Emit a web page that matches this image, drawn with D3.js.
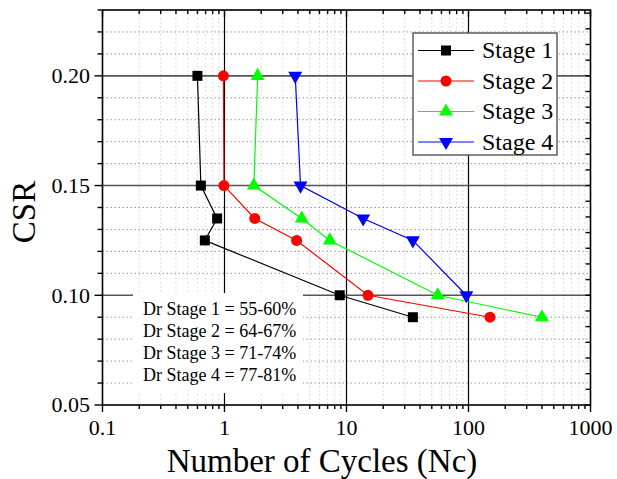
<!DOCTYPE html>
<html>
<head>
<meta charset="utf-8">
<script src="https://cdn.jsdelivr.net/npm/d3@7"></script>
<style>
  html, body { margin: 0; padding: 0; background: #fff; }
  svg { display: block; }
  svg text { font-family: "Liberation Serif", "Times New Roman", serif; }
</style>
</head>
<body>
<svg id="chart" width="617" height="479"></svg>
<script>
// CSR levels shared by all four stages
const csr = [0.20, 0.15, 0.135, 0.125, 0.10, 0.09];

// Number of cycles to liquefaction for each stage
const stage1 = [0.60, 0.64, 0.87, 0.69, 8.8, 35];
const stage2 = [0.98, 0.99, 1.77, 3.9, 15, 150];
const stage3 = [1.87, 1.74, 4.3, 7.3, 56, 400];
const stage4 = [3.8, 4.2, 13.7, 35, 96];

const seriesNames = ["Stage 1", "Stage 2", "Stage 3", "Stage 4"];
const seriesColors = ["#000000", "#ff0000", "#00ff00", "#0000ff"];
const seriesSymbols = ["square", "circle", "triangle", "triangleDown"];

const xTickLabels = ["0.1", "1", "10", "100", "1000"];
const yTickLabels = ["0.05", "0.10", "0.15", "0.20"];

const noteLines = [
  "Dr Stage 1 = 55-60%",
  "Dr Stage 2 = 64-67%",
  "Dr Stage 3 = 71-74%",
  "Dr Stage 4 = 77-81%"
];

const FONT = "Liberation Serif";
const svg = d3.select("#chart");
const L = 102.5, R = 590.5, T = 10, B = 405;

const x = d3.scaleLog().domain([0.1, 1000]).range([L, R]);
const y = d3.scaleLinear().domain([0.05, 0.23]).range([B, T]);

const xMajor = xTickLabels.map(Number);
const xMinor = [];
for (let e = -1; e < 3; e++) for (let k = 2; k <= 9; k++) xMinor.push(k * Math.pow(10, e));
const yMajor = yTickLabels.map(Number);
const yMinor = d3.range(0, 19).map(i => +(0.05 + i * 0.01).toFixed(3)).filter(v => !yMajor.includes(v));
const yRight = d3.range(0, 26).map(i => 0.05 + i * 0.05 / 7).filter(v => v <= 0.2305);

// minor grid
const grid = svg.append("g");
grid.selectAll(".vmin").data(xMinor).join("line")
  .attr("x1", d => x(d)).attr("x2", d => x(d)).attr("y1", T).attr("y2", B)
  .attr("stroke", "#d4d4d4").attr("stroke-width", 1).attr("stroke-dasharray", "1.5,2.5");
grid.selectAll(".hmin").data(yMinor).join("line")
  .attr("x1", L).attr("x2", R).attr("y1", d => y(d)).attr("y2", d => y(d))
  .attr("stroke", "#999").attr("stroke-width", 1).attr("stroke-dasharray", "1.5,2.5");
// major grid
grid.selectAll(".vmaj").data(xMajor.slice(1, -1)).join("line")
  .attr("x1", d => x(d)).attr("x2", d => x(d)).attr("y1", T).attr("y2", B)
  .attr("stroke", "#000").attr("stroke-width", 1.2);
grid.selectAll(".hmaj").data(yMajor.slice(1)).join("line")
  .attr("x1", L).attr("x2", R).attr("y1", d => y(d)).attr("y2", d => y(d))
  .attr("stroke", "#555").attr("stroke-width", 1.6);

// note box (white background over the grid)
const noteG = svg.append("g");
noteG.append("rect").attr("x", 133).attr("y", 293).attr("width", 170).attr("height", 100).attr("fill", "#fff");
noteG.selectAll("text").data(noteLines).join("text")
  .attr("x", 143).attr("y", (d, i) => 315 + i * 22)
  .attr("font-family", FONT).attr("font-size", 18).attr("fill", "#000").text(d => d);

// series
const symbolType = {
  square: d3.symbolSquare, circle: d3.symbolCircle,
  triangle: d3.symbolTriangle, triangleDown: d3.symbolTriangle
};
const symbolSize = { square: 100, circle: 95, triangle: 85, triangleDown: 85 };
function drawSymbol(g, kind, color) {
  const p = g.append("path").attr("d", d3.symbol().type(symbolType[kind]).size(symbolSize[kind])())
    .attr("fill", color);
  if (kind === "triangleDown") p.attr("transform", "rotate(180)");
  return p;
}

const allSeries = [stage1, stage2, stage3, stage4];
const line = d3.line().x(d => x(d[0])).y(d => y(d[1]));
allSeries.forEach((vals, si) => {
  const pts = vals.map((v, i) => [v, csr[i]]);
  const g = svg.append("g");
  g.append("path").attr("d", line(pts)).attr("fill", "none")
    .attr("stroke", seriesColors[si]).attr("stroke-width", 1.2);
  pts.forEach(p => {
    const mg = g.append("g").attr("transform", `translate(${x(p[0])},${y(p[1])})`);
    drawSymbol(mg, seriesSymbols[si], seriesColors[si]);
  });
});

// frame
svg.append("rect").attr("x", L).attr("y", T).attr("width", R - L).attr("height", B - T)
  .attr("fill", "none").attr("stroke", "#000").attr("stroke-width", 1.6);

// axes
const ax = svg.append("g").attr("stroke", "#000").attr("stroke-width", 1.4);
// bottom: outward ticks
ax.selectAll(".bmaj").data(xMajor).join("line")
  .attr("x1", d => x(d)).attr("x2", d => x(d)).attr("y1", B).attr("y2", B + 7);
ax.selectAll(".bmin").data(xMinor).join("line")
  .attr("x1", d => x(d)).attr("x2", d => x(d)).attr("y1", B).attr("y2", B + 4);
// top: inward ticks
ax.selectAll(".tmaj").data(xMajor).join("line")
  .attr("x1", d => x(d)).attr("x2", d => x(d)).attr("y1", T).attr("y2", T + 7);
ax.selectAll(".tmin").data(xMinor).join("line")
  .attr("x1", d => x(d)).attr("x2", d => x(d)).attr("y1", T).attr("y2", T + 4);
// left: outward ticks
ax.selectAll(".lmaj").data(yMajor).join("line")
  .attr("x1", L - 8).attr("x2", L).attr("y1", d => y(d)).attr("y2", d => y(d));
ax.selectAll(".lmin").data(yMinor).join("line")
  .attr("x1", L - 5).attr("x2", L).attr("y1", d => y(d)).attr("y2", d => y(d));
// right: inward ticks
ax.selectAll(".rt").data(yRight).join("line")
  .attr("x1", R - 5).attr("x2", R).attr("y1", d => y(d)).attr("y2", d => y(d));

// tick labels
svg.append("g").selectAll("text").data(xTickLabels).join("text")
  .attr("x", d => x(+d)).attr("y", 435).attr("text-anchor", "middle")
  .attr("font-family", FONT).attr("font-size", 22).text(d => d);
svg.append("g").selectAll("text").data(yTickLabels).join("text")
  .attr("x", 90).attr("y", d => y(+d)).attr("dy", "0.34em").attr("text-anchor", "end")
  .attr("font-family", FONT).attr("font-size", 22).text(d => d);

// axis titles
svg.append("text").attr("x", 322).attr("y", 472).attr("text-anchor", "middle")
  .attr("font-family", FONT).attr("font-size", 33).text("Number of Cycles (Nc)");
svg.append("text").attr("transform", "translate(35,212) rotate(-90)")
  .attr("text-anchor", "middle").attr("font-family", FONT).attr("font-size", 33).text("CSR");

// legend
const lg = svg.append("g");
lg.append("rect").attr("x", 413).attr("y", 33).attr("width", 144).attr("height", 122)
  .attr("fill", "#fff").attr("stroke", "#555").attr("stroke-width", 1.4);
seriesNames.forEach((name, i) => {
  const cy = 50.5 + i * 30.5;
  lg.append("line").attr("x1", 418).attr("x2", 474).attr("y1", cy).attr("y2", cy)
    .attr("stroke", seriesColors[i]).attr("stroke-width", 1.2);
  const mg = lg.append("g").attr("transform", `translate(446,${cy})`);
  drawSymbol(mg, seriesSymbols[i], seriesColors[i]);
  lg.append("text").attr("x", 482).attr("y", cy).attr("dy", "0.33em")
    .attr("font-family", FONT).attr("font-size", 24).text(name);
});
</script>
</body>
</html>
